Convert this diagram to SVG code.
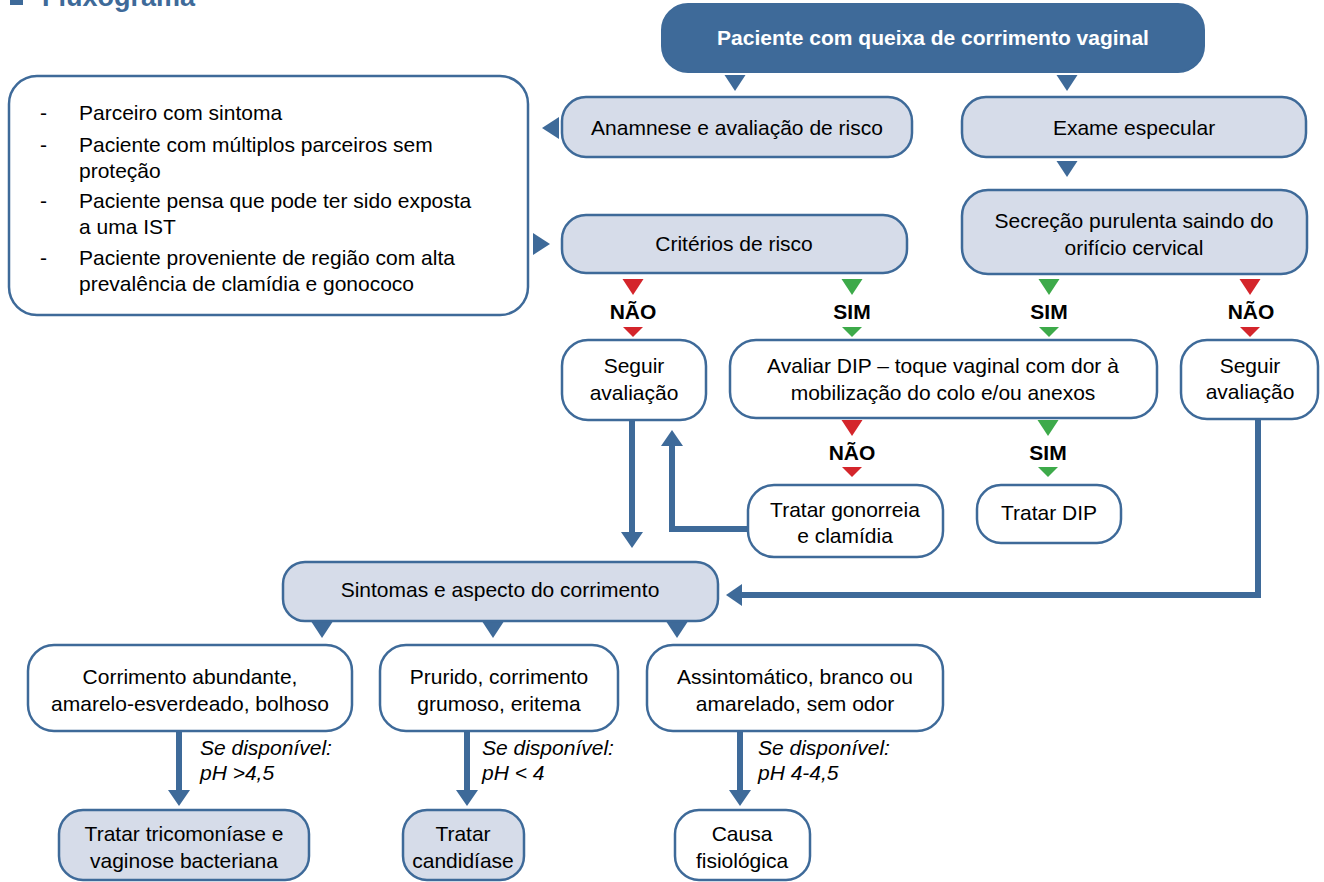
<svg xmlns="http://www.w3.org/2000/svg" xmlns:xlink="http://www.w3.org/1999/xlink" width="1324" height="882" viewBox="0 0 1324 882">
<style>
  .t{font-family:"Liberation Sans",Arial,sans-serif;font-size:21px;fill:#000;text-anchor:middle}
  .tl{font-family:"Liberation Sans",Arial,sans-serif;font-size:21px;fill:#000}
  .b{font-family:"Liberation Sans",Arial,sans-serif;font-size:21px;font-weight:bold;fill:#000;text-anchor:middle}
  .w{font-family:"Liberation Sans",Arial,sans-serif;font-size:21px;font-weight:bold;fill:#fff;text-anchor:middle}
  .i{font-family:"Liberation Sans",Arial,sans-serif;font-size:21px;font-style:italic;fill:#000}
  .light{fill:#d6dce9;stroke:#3e6a99;stroke-width:2.5}
  .white{fill:#fff;stroke:#3e6a99;stroke-width:2.5}
  .dark{fill:#3e6a99;stroke:#3e6a99;stroke-width:2}
  .blue{fill:#3e6a99}
  .red{fill:#d4252b}
  .green{fill:#3daa4a}
  .line{fill:none;stroke:#3e6a99;stroke-width:6;marker-end:url(#head)}
</style>
<defs>
  <polygon id="tri" points="-10.5,0 10.5,0 0,16"/>
  <polygon id="tris" points="-10,0 10,0 0,10"/>
  <marker id="head" viewBox="0 0 16 22" markerWidth="16" markerHeight="22" markerUnits="userSpaceOnUse" refX="0" refY="11" orient="auto">
    <path d="M0,0 L16,11 L0,22 z" fill="#3e6a99"/>
  </marker>
</defs>

<g id="title">
  <rect x="10" y="-8" width="13" height="13" class="blue"/>
  <text x="42" y="6" style="font-family:'Liberation Sans',Arial,sans-serif;font-size:27px;font-weight:bold;fill:#3e6a99">Fluxograma</text>
</g>

<g id="connectors">
  <use xlink:href="#tri" x="735" y="75" class="blue"/>
  <use xlink:href="#tri" x="1067" y="75" class="blue"/>
  <use xlink:href="#tri" x="1067" y="161" class="blue"/>
  <polygon points="542,128 559,117 559,139" class="blue"/>
  <polygon points="550,244 533,233 533,255" class="blue"/>

  <use xlink:href="#tri" x="633" y="279" class="red"/>
  <use xlink:href="#tris" x="633" y="327" class="red"/>
  <use xlink:href="#tri" x="852" y="279" class="green"/>
  <use xlink:href="#tris" x="852" y="327" class="green"/>
  <use xlink:href="#tri" x="1049" y="279" class="green"/>
  <use xlink:href="#tris" x="1049" y="327" class="green"/>
  <use xlink:href="#tri" x="1250" y="279" class="red"/>
  <use xlink:href="#tris" x="1250" y="327" class="red"/>

  <use xlink:href="#tri" x="852" y="420" class="red"/>
  <use xlink:href="#tris" x="852" y="467" class="red"/>
  <use xlink:href="#tri" x="1048" y="420" class="green"/>
  <use xlink:href="#tris" x="1048" y="467" class="green"/>

  <path d="M632,420 V532" class="line"/>
  <path d="M748,529 H672 V446" class="line"/>
  <path d="M1258,419 V595 H742" class="line"/>

  <use xlink:href="#tri" x="322" y="622" class="blue"/>
  <use xlink:href="#tri" x="493" y="622" class="blue"/>
  <use xlink:href="#tri" x="677" y="622" class="blue"/>

  <path d="M179,731 V790" class="line"/>
  <path d="M467,731 V790" class="line"/>
  <path d="M740,731 V790" class="line"/>

  <text class="b" x="633" y="319">NÃO</text>
  <text class="b" x="852" y="319">SIM</text>
  <text class="b" x="1049" y="319">SIM</text>
  <text class="b" x="1251" y="319">NÃO</text>
  <text class="b" x="852" y="460">NÃO</text>
  <text class="b" x="1048" y="460">SIM</text>

  <text class="i" x="200" y="755">Se disponível:</text>
  <text class="i" x="200" y="780">pH &gt;4,5</text>
  <text class="i" x="482" y="755">Se disponível:</text>
  <text class="i" x="482" y="780">pH &lt; 4</text>
  <text class="i" x="758" y="755">Se disponível:</text>
  <text class="i" x="758" y="780">pH 4-4,5</text>
</g>

<g id="n-start">
  <rect x="662" y="4" width="542" height="68" rx="26" class="dark"/>
  <text class="w" x="933" y="45">Paciente com queixa de corrimento vaginal</text>
</g>
<g id="n-anamnese">
  <rect x="562" y="97" width="350" height="60" rx="24" class="light"/>
  <text class="t" x="737" y="135">Anamnese e avaliação de risco</text>
</g>
<g id="n-exame">
  <rect x="962" y="97" width="344" height="60" rx="24" class="light"/>
  <text class="t" x="1134" y="135">Exame especular</text>
</g>
<g id="n-lista">
  <rect x="9" y="76" width="519" height="239" rx="28" class="white"/>
  <text class="tl" x="40" y="120">-</text><text class="tl" x="79" y="120">Parceiro com sintoma</text>
  <text class="tl" x="40" y="152">-</text><text class="tl" x="79" y="152">Paciente com múltiplos parceiros sem</text>
  <text class="tl" x="79" y="178">proteção</text>
  <text class="tl" x="40" y="208">-</text><text class="tl" x="79" y="208">Paciente pensa que pode ter sido exposta</text>
  <text class="tl" x="79" y="234">a uma IST</text>
  <text class="tl" x="40" y="265">-</text><text class="tl" x="79" y="265">Paciente proveniente de região com alta</text>
  <text class="tl" x="79" y="291">prevalência de clamídia e gonococo</text>
</g>
<g id="n-criterios">
  <rect x="562" y="215" width="345" height="58" rx="24" class="light"/>
  <text class="t" x="734" y="251">Critérios de risco</text>
</g>
<g id="n-secrecao">
  <rect x="962" y="190" width="345" height="84" rx="26" class="light"/>
  <text class="t" x="1134" y="228">Secreção purulenta saindo do</text>
  <text class="t" x="1134" y="255">orifício cervical</text>
</g>
<g id="n-seguir1">
  <rect x="562" y="340" width="144" height="80" rx="26" class="white"/>
  <text class="t" x="634" y="373">Seguir</text>
  <text class="t" x="634" y="400">avaliação</text>
</g>
<g id="n-dip">
  <rect x="730" y="340" width="427" height="78" rx="26" class="white"/>
  <text class="t" x="943" y="373">Avaliar DIP – toque vaginal com dor à</text>
  <text class="t" x="943" y="400">mobilização do colo e/ou anexos</text>
</g>
<g id="n-seguir2">
  <rect x="1181" y="340" width="137" height="79" rx="26" class="white"/>
  <text class="t" x="1250" y="373">Seguir</text>
  <text class="t" x="1250" y="399">avaliação</text>
</g>
<g id="n-gonorreia">
  <rect x="748" y="485" width="195" height="72" rx="26" class="white"/>
  <text class="t" x="845" y="517">Tratar gonorreia</text>
  <text class="t" x="845" y="543">e clamídia</text>
</g>
<g id="n-tratar-dip">
  <rect x="977" y="485" width="144" height="58" rx="24" class="white"/>
  <text class="t" x="1049" y="520">Tratar DIP</text>
</g>
<g id="n-sintomas">
  <rect x="283" y="562" width="435" height="59" rx="22" class="light"/>
  <text class="t" x="500" y="597">Sintomas e aspecto do corrimento</text>
</g>
<g id="n-abundante">
  <rect x="28" y="645" width="324" height="86" rx="26" class="white"/>
  <text class="t" x="190" y="684">Corrimento abundante,</text>
  <text class="t" x="190" y="711">amarelo-esverdeado, bolhoso</text>
</g>
<g id="n-prurido">
  <rect x="380" y="645" width="238" height="86" rx="26" class="white"/>
  <text class="t" x="499" y="684">Prurido, corrimento</text>
  <text class="t" x="499" y="711">grumoso, eritema</text>
</g>
<g id="n-assintomatico">
  <rect x="647" y="645" width="296" height="86" rx="26" class="white"/>
  <text class="t" x="795" y="684">Assintomático, branco ou</text>
  <text class="t" x="795" y="711">amarelado, sem odor</text>
</g>
<g id="n-trico">
  <rect x="59" y="810" width="250" height="70" rx="24" class="light"/>
  <text class="t" x="184" y="841">Tratar tricomoníase e</text>
  <text class="t" x="184" y="868">vaginose bacteriana</text>
</g>
<g id="n-candidiase">
  <rect x="403" y="810" width="121" height="70" rx="24" class="light"/>
  <text class="t" x="463" y="841">Tratar</text>
  <text class="t" x="463" y="868">candidíase</text>
</g>
<g id="n-causa">
  <rect x="675" y="810" width="135" height="70" rx="24" class="white"/>
  <text class="t" x="742" y="841">Causa</text>
  <text class="t" x="742" y="868">fisiológica</text>
</g>
</svg>
